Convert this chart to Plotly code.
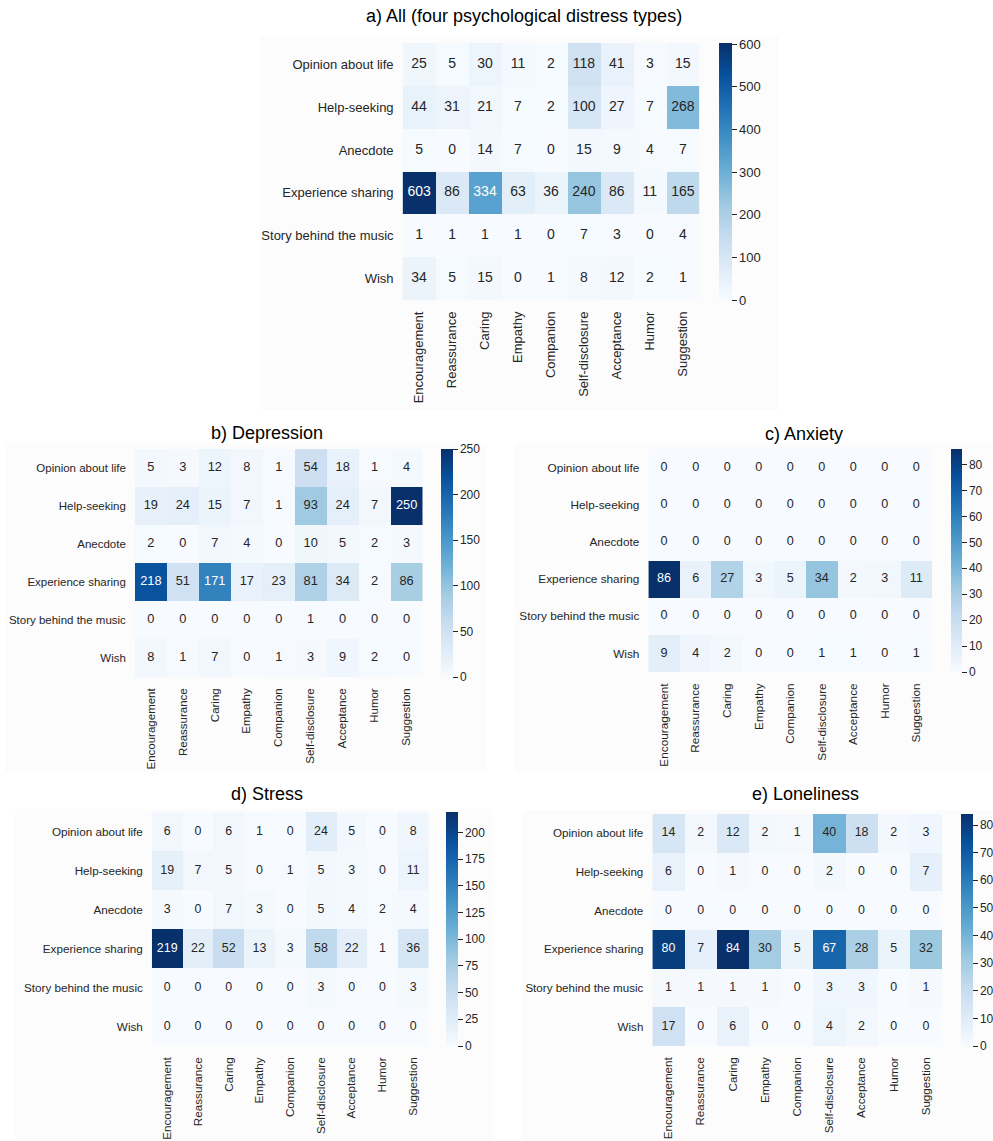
import plotly.graph_objects as go

W, H = 993, 1141

# ---------------- data ----------------
row_labels = ["Opinion about life", "Help-seeking", "Anecdote",
              "Experience sharing", "Story behind the music", "Wish"]
col_labels = ["Encouragement", "Reassurance", "Caring", "Empathy", "Companion",
              "Self-disclosure", "Acceptance", "Humor", "Suggestion"]

all_types = [
    [25, 5, 30, 11, 2, 118, 41, 3, 15],
    [44, 31, 21, 7, 2, 100, 27, 7, 268],
    [5, 0, 14, 7, 0, 15, 9, 4, 7],
    [603, 86, 334, 63, 36, 240, 86, 11, 165],
    [1, 1, 1, 1, 0, 7, 3, 0, 4],
    [34, 5, 15, 0, 1, 8, 12, 2, 1],
]
depression = [
    [5, 3, 12, 8, 1, 54, 18, 1, 4],
    [19, 24, 15, 7, 1, 93, 24, 7, 250],
    [2, 0, 7, 4, 0, 10, 5, 2, 3],
    [218, 51, 171, 17, 23, 81, 34, 2, 86],
    [0, 0, 0, 0, 0, 1, 0, 0, 0],
    [8, 1, 7, 0, 1, 3, 9, 2, 0],
]
anxiety = [
    [0, 0, 0, 0, 0, 0, 0, 0, 0],
    [0, 0, 0, 0, 0, 0, 0, 0, 0],
    [0, 0, 0, 0, 0, 0, 0, 0, 0],
    [86, 6, 27, 3, 5, 34, 2, 3, 11],
    [0, 0, 0, 0, 0, 0, 0, 0, 0],
    [9, 4, 2, 0, 0, 1, 1, 0, 1],
]
stress = [
    [6, 0, 6, 1, 0, 24, 5, 0, 8],
    [19, 7, 5, 0, 1, 5, 3, 0, 11],
    [3, 0, 7, 3, 0, 5, 4, 2, 4],
    [219, 22, 52, 13, 3, 58, 22, 1, 36],
    [0, 0, 0, 0, 0, 3, 0, 0, 3],
    [0, 0, 0, 0, 0, 0, 0, 0, 0],
]
loneliness = [
    [14, 2, 12, 2, 1, 40, 18, 2, 3],
    [6, 0, 1, 0, 0, 2, 0, 0, 7],
    [0, 0, 0, 0, 0, 0, 0, 0, 0],
    [80, 7, 84, 30, 5, 67, 28, 5, 32],
    [1, 1, 1, 1, 0, 3, 3, 0, 1],
    [17, 0, 6, 0, 0, 4, 2, 0, 0],
]

titles = ["a) All (four psychological distress types)", "b) Depression",
          "c) Anxiety", "d) Stress", "e) Loneliness"]
colorbar_steps = [100, 50, 10, 25, 10]

# ---------------- style ----------------
BLUES = ["#f7fbff", "#deebf7", "#c6dbef", "#9ecae1", "#6baed6",
         "#4292c6", "#2171b5", "#08519c", "#08306b"]
colorscale = [[i / (len(BLUES) - 1), c] for i, c in enumerate(BLUES)]
FONT = "Liberation Sans, Arial, Helvetica, sans-serif"
DARK = "#262626"


def hex_rgb(h):
    h = h.lstrip("#")
    return [int(h[i:i + 2], 16) for i in (0, 2, 4)]


def cmap(f):
    f = min(max(f, 0.0), 1.0)
    pos = f * (len(BLUES) - 1)
    i = min(int(pos), len(BLUES) - 2)
    t = pos - i
    a, b = hex_rgb(BLUES[i]), hex_rgb(BLUES[i + 1])
    return [a[k] + (b[k] - a[k]) * t for k in range(3)]


def lum(rgb):
    out = []
    for c in rgb:
        c = c / 255.0
        out.append(c / 12.92 if c <= 0.03928 else ((c + 0.055) / 1.055) ** 2.4)
    return 0.2126 * out[0] + 0.7152 * out[1] + 0.0722 * out[2]


# pixel boxes: heatmap (x0, x1, y0, y1), colorbar (x0, x1), title centre, fonts, background
panels = [
    dict(heat=(403, 700, 43, 300), cb=(719, 732), tpos=(525, 16), tick=13, num=14, cbf=13,
         bg=(260, 780, 36, 410)),
    dict(heat=(135, 423, 449, 677), cb=(441, 453), tpos=(267, 433), tick=11.5, num=12.8, cbf=12,
         bg=(5, 487, 443, 772)),
    dict(heat=(649, 933, 449, 672), cb=(951, 962), tpos=(805, 434), tick=11.8, num=12.6, cbf=12,
         bg=(515, 993, 443, 772)),
    dict(heat=(152, 429, 812, 1046), cb=(446, 458), tpos=(267, 794), tick=11.7, num=12.4, cbf=12,
         bg=(15, 493, 809, 1141)),
    dict(heat=(653, 943, 814, 1046), cb=(961, 973), tpos=(806, 794), tick=11.6, num=12.4, cbf=12,
         bg=(523, 993, 810, 1141)),
]
datasets = [all_types, depression, anxiety, stress, loneliness]

fig = go.Figure()
layout = dict(width=W, height=H, margin=dict(l=0, r=0, t=0, b=0),
              paper_bgcolor="white", plot_bgcolor="white",
              showlegend=False, font=dict(family=FONT, color=DARK),
              annotations=[], shapes=[])

for k, (p, z, title, step) in enumerate(zip(panels, datasets, titles, colorbar_steps)):
    sfx = "" if k == 0 else str(k + 1)
    xa, ya = "x" + sfx, "y" + sfx
    x0, x1, y0, y1 = p["heat"]
    zmax = max(max(r) for r in z)

    layout["xaxis" + sfx] = dict(
        domain=[x0 / W, x1 / W], anchor=ya, type="category",
        categoryorder="array", categoryarray=col_labels,
        range=[-0.5, len(col_labels) - 0.5],
        showgrid=False, zeroline=False, showline=False, ticks="",
        tickangle=-90, ticklabelstandoff=8,
        tickfont=dict(size=p["tick"], color=DARK, family=FONT))
    layout["yaxis" + sfx] = dict(
        domain=[1 - y1 / H, 1 - y0 / H], anchor=xa, type="category",
        categoryorder="array", categoryarray=row_labels,
        range=[len(row_labels) - 0.5, -0.5],
        showgrid=False, zeroline=False, showline=False, ticks="",
        ticklabelstandoff=8,
        tickfont=dict(size=p["tick"], color=DARK, family=FONT))

    cx0, cx1 = p["cb"]
    fig.add_trace(go.Heatmap(
        z=z, x=col_labels, y=row_labels, xaxis=xa, yaxis=ya,
        colorscale=colorscale, zmin=0, zmax=zmax, xgap=0, ygap=0,
        hoverinfo="skip",
        colorbar=dict(x=cx0 / W, xanchor="left", y=1 - y0 / H, yanchor="top",
                      len=(y1 - y0), lenmode="pixels",
                      thickness=(cx1 - cx0), thicknessmode="pixels",
                      xpad=0, ypad=0, outlinewidth=0,
                      ticks="outside", ticklen=5, tickwidth=1, tickcolor=DARK,
                      tick0=0, dtick=step,
                      tickfont=dict(size=p["cbf"], color=DARK, family=FONT))))

    xs, ys, txt, colors = [], [], [], []
    for i, r in enumerate(row_labels):
        for j, c in enumerate(col_labels):
            v = z[i][j]
            xs.append(c)
            ys.append(r)
            txt.append(str(v))
            colors.append("white" if lum(cmap(v / zmax)) <= 0.408 else DARK)
    fig.add_trace(go.Scatter(
        x=xs, y=ys, text=txt, mode="text", xaxis=xa, yaxis=ya,
        textposition="middle center", hoverinfo="skip",
        textfont=dict(size=p["num"], color=colors, family=FONT)))

    bx0, bx1, by0, by1 = p["bg"]
    layout["shapes"].append(dict(type="rect", xref="paper", yref="paper",
                                 x0=bx0 / W, x1=bx1 / W, y0=1 - by1 / H, y1=1 - by0 / H,
                                 fillcolor="#fcfcfc", line=dict(width=0), layer="below"))

    tx, ty = p["tpos"]
    layout["annotations"].append(dict(
        text=title, xref="paper", yref="paper", x=tx / W, y=1 - ty / H,
        xanchor="center", yanchor="middle", showarrow=False,
        font=dict(size=18, color="black", family=FONT)))

fig.update_layout(**layout)
fig.write_html("out.html")
